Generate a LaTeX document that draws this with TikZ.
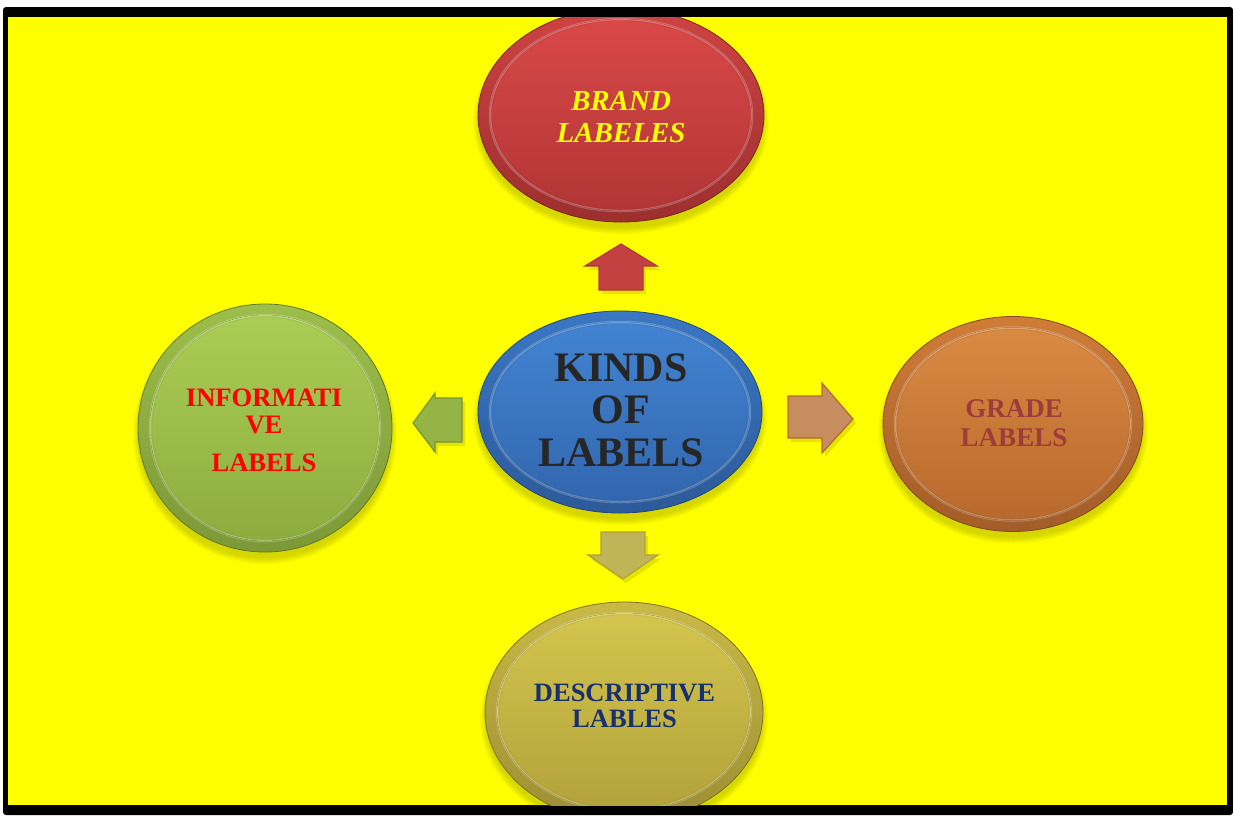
\documentclass[tikz,border=0pt]{standalone}
\usepackage{fontspec}
\setmainfont{Liberation Serif}
\usetikzlibrary{shapes.geometric}

% palette
\definecolor{framebg}{HTML}{FFFF00}
\definecolor{shadowc}{HTML}{6E6E00}
\definecolor{redhi}{HTML}{D94848}\definecolor{redmid}{HTML}{CF4343}\definecolor{redlo}{HTML}{B23535}
\definecolor{bluehi}{HTML}{4284D2}\definecolor{bluemid}{HTML}{3A77C4}\definecolor{bluelo}{HTML}{3266AE}
\definecolor{greenhi}{HTML}{AACD55}\definecolor{greenmid}{HTML}{9DBE4A}\definecolor{greenlo}{HTML}{8CAD3E}
\definecolor{orangehi}{HTML}{D98A42}\definecolor{orangemid}{HTML}{D07C38}\definecolor{orangelo}{HTML}{B8692D}
\definecolor{goldhi}{HTML}{D4C54E}\definecolor{goldmid}{HTML}{C9B945}\definecolor{goldlo}{HTML}{B2A23A}
\definecolor{txtdark}{HTML}{262626}
\definecolor{txtbrown}{HTML}{9E3B3B}
\definecolor{txtnavy}{HTML}{17306E}

\tikzset{
  orbbody/.style={ellipse, inner sep=0pt, outer sep=0pt},
  orbtext/.style={align=center, inner sep=0pt, font=\bfseries},
  blockarrow/.style={line width=1.2pt, line join=miter},
  arrowshadow/.style={fill=shadowc, opacity=0.18},
}

% a bevelled disc: name, centre, x radius, y radius, colour stem
\newcommand\orb[5]{%
  \begin{scope}[shift={#2}]
    \foreach \k in {0,...,6}
      \fill[shadowc, opacity=0.045] (0,7) ellipse [x radius={#3+5-\k}, y radius={#4+5-\k}];
    \node[orbbody, top color=#5mid, bottom color=#5lo!88!black, draw=#5lo!70!black, line width=0.8pt,
          minimum width={2*#3}, minimum height={2*#4}] (#1) at (0,0) {};
    \fill[top color=#5hi, bottom color=#5lo] (0,0) ellipse [x radius={#3-12}, y radius={#4-11}];
    \draw[white, opacity=0.22, line width=2.5pt] (0,0) ellipse [x radius={#3-12}, y radius={#4-11}];
    \draw[#5lo!80!black, opacity=0.2, line width=0.6pt] (0,0) ellipse [x radius={#3-13.8}, y radius={#4-12.8}];
  \end{scope}}

\begin{document}
\begin{tikzpicture}[x=1pt, y=-1pt]
  \useasboundingbox (0,0) rectangle (1233,815);
  \fill[white] (0,0) rectangle (1233,815);

  % frame
  \fill[black, rounded corners=3pt] (3,7) rectangle (1233,815);
  \fill[framebg] (8,17) rectangle (1227,805);

  \begin{scope}
    \clip (8,17) rectangle (1227,805);

    % discs
    \orb{brand}{(621,115)}{143}{107}{red}
    \orb{kinds}{(620,412)}{142}{101}{blue}
    \orb{info}{(265,428)}{127}{124}{green}
    \orb{grade}{(1013,424)}{130}{107.5}{orange}
    \orb{desc}{(624,712)}{139}{110}{gold}

    % block arrows
    \fill[arrowshadow] ([shift={(3,4)}]621,244) -- ++(36,22) -- ++(-14,0) -- ++(0,24) -- ++(-44,0) -- ++(0,-24) -- ++(-14,0) -- cycle;
    \filldraw[blockarrow, fill=redhi!90!black, draw=redlo] (621,244) coordinate (upTip) -- (657,266) -- (643,266) -- (643,290) -- (599,290) -- (599,266) -- (585,266) -- cycle;

    \fill[arrowshadow] ([shift={(3,4)}]413,423) -- ++(22,-30) -- ++(0,5) -- ++(27,0) -- ++(0,44) -- ++(-27,0) -- ++(0,10) -- cycle;
    \filldraw[blockarrow, fill=greenmid!95!black, draw=greenlo!85!black] (413,423) coordinate (leftTip) -- (435,393) -- (435,398) -- (462,398) -- (462,442) -- (435,442) -- (435,452) -- cycle;

    \fill[arrowshadow] ([shift={(3,4)}]853,419) -- ++(-31,-36) -- ++(0,13) -- ++(-34,0) -- ++(0,42) -- ++(34,0) -- ++(0,15) -- cycle;
    \filldraw[blockarrow, fill=orangemid!75!white!90!black, draw=orangelo] (853,419) coordinate (rightTip) -- (822,383) -- (822,396) -- (788,396) -- (788,438) -- (822,438) -- (822,453) -- cycle;

    \fill[arrowshadow] ([shift={(3,4)}]623,579) -- ++(35,-24) -- ++(-13,0) -- ++(0,-23) -- ++(-44,0) -- ++(0,23) -- ++(-13,0) -- cycle;
    \filldraw[blockarrow, fill=goldmid!85!white!92!black, draw=goldlo] (623,579) coordinate (downTip) -- (658,555) -- (645,555) -- (645,532) -- (601,532) -- (601,555) -- (588,555) -- cycle;
  \end{scope}

  % labels
  \node[orbtext, text=framebg, font=\bfseries\itshape\fontsize{29}{32}\selectfont] (brand-label) at (621,117) {BRAND\\LABELES};
  \node[orbtext, text=txtdark, font=\bfseries\fontsize{42}{42.5}\selectfont] (kinds-label) at (621,410) {KINDS\\OF\\LABELS};
  \node[orbtext, text=red, font=\bfseries\fontsize{26.6}{27}\selectfont] (info-label) at (264,430) {INFORMATI\\VE\\[11pt]LABELS};
  \node[orbtext, text=txtbrown, font=\bfseries\fontsize{27}{29}\selectfont] (grade-label) at (1014,423.5) {GRADE\\LABELS};
  \node[orbtext, text=txtnavy, font=\bfseries\fontsize{26.5}{26.5}\selectfont] (desc-label) at (624.5,706) {DESCRIPTIVE\\LABLES};
\end{tikzpicture}
\end{document}
